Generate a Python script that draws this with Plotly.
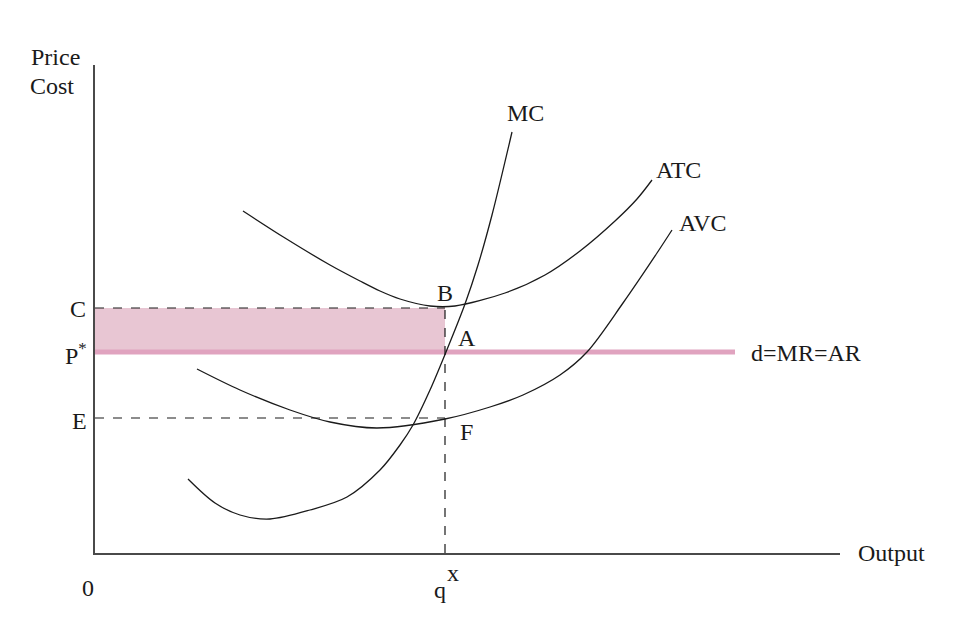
import plotly.graph_objects as go

# Schematic curves (x = output units, y = price/cost units)
mc_x = [93, 120, 145, 175, 215, 252, 285, 305, 318, 335, 351, 370, 383, 397, 417]
mc_y = [74, 50, 38, 34, 43, 56, 83, 108, 128, 163, 201, 249, 288, 338, 421]
atc_x = [148, 190, 235, 265, 285, 305, 335, 360, 410, 450, 485, 520, 542, 557]
atc_y = [342, 315, 288, 272, 262, 254, 247, 247, 260, 278, 302, 332, 354, 373]
avc_x = [102, 145, 195, 235, 282, 350, 395, 428, 465, 492, 528, 562, 577]
avc_y = [184, 163, 143, 131, 125, 134, 146, 158, 178, 201, 250, 300, 323]

q_x = 350          # quantity q^x
p_star = 201       # price P*
c_level = 245      # ATC at q^x (C)
e_level = 135      # AVC at q^x (E)
demand_end = 640   # extent of d=MR=AR line

X_MAX, Y_MAX = 745, 488
FONT = "Liberation Serif"
ink = "#1a1a1a"

fig = go.Figure()

# loss rectangle
fig.add_trace(go.Scatter(x=[0, q_x, q_x, 0, 0], y=[p_star, p_star, c_level, c_level, p_star],
                         fill="toself", fillcolor="#e8c6d3", line=dict(width=0),
                         mode="lines", hoverinfo="skip"))
# demand line
fig.add_trace(go.Scatter(x=[0, demand_end], y=[p_star, p_star], mode="lines",
                         line=dict(color="#e0a3bf", width=5)))
# dashed guides
dash = dict(color=ink, width=1.2, dash="dash")
fig.add_trace(go.Scatter(x=[0, q_x], y=[c_level, c_level], mode="lines", line=dash))
fig.add_trace(go.Scatter(x=[0, q_x], y=[e_level, e_level], mode="lines", line=dash))
fig.add_trace(go.Scatter(x=[q_x, q_x], y=[0, c_level], mode="lines", line=dash))
# curves
for xs, ys in [(mc_x, mc_y), (atc_x, atc_y), (avc_x, avc_y)]:
    fig.add_trace(go.Scatter(x=xs, y=ys, mode="lines",
                             line=dict(color=ink, width=1.3, shape="spline", smoothing=0.9)))

def lab(x, y, t, xa="center", ya="middle"):
    fig.add_annotation(x=x / X_MAX, y=y / Y_MAX, xref="paper", yref="paper", text=t,
                       showarrow=False, xanchor=xa, yanchor=ya,
                       font=dict(family=FONT, size=24, color=ink))

lab(-40, 496, "Price", "center")
lab(-43, 467, "Cost", "center")
lab(-7, c_level - 1, "C", "right")
lab(-6, p_star - 2, "P<sup>*</sup>", "right")
lab(-6, e_level - 3, "E", "right")
lab(350, 260, "B")
lab(372, 215, "A")
lab(371, 121, "F")
lab(430, 440, "MC")
lab(583, 383, "ATC")
lab(608, 330, "AVC")
lab(654, 200, "d=MR=AR", "left")
lab(761, 0, "Output", "left")
lab(-7, -35, "0")
lab(345, -37, "q")
lab(358, -20, "x")

fig.update_layout(
    width=966, height=634,
    margin=dict(l=87, r=134, t=57, b=89),
    paper_bgcolor="white", plot_bgcolor="white",
    showlegend=False,
    xaxis=dict(range=[0, X_MAX], showgrid=False, zeroline=False, showticklabels=False, ticks="",
               showline=True, linecolor="#4a4a4a", linewidth=1.5),
    yaxis=dict(range=[0, Y_MAX], showgrid=False, zeroline=False, showticklabels=False, ticks="",
               showline=True, linecolor="#4a4a4a", linewidth=1.5),
)

fig.write_html("out.html")
